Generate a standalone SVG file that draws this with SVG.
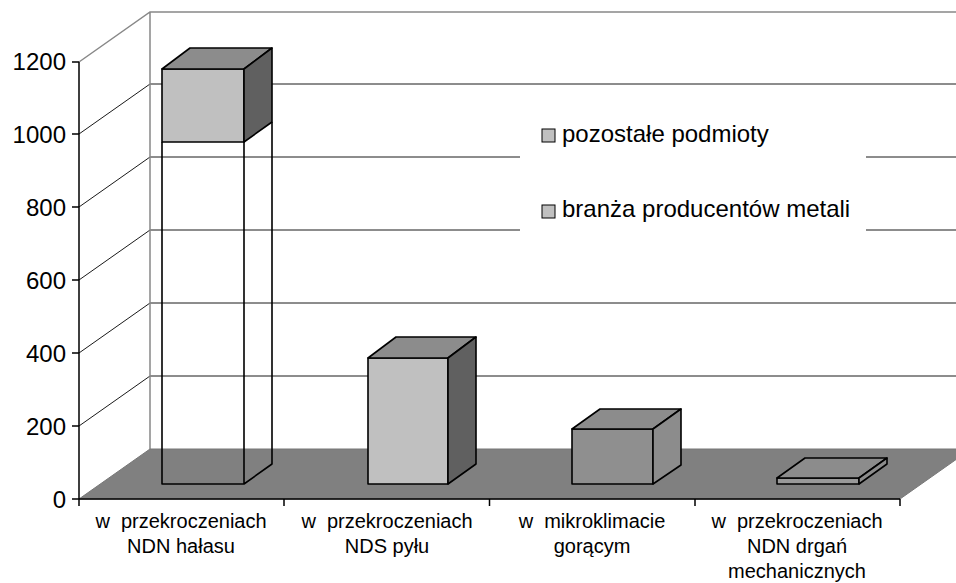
<svg xmlns="http://www.w3.org/2000/svg" width="956" height="583" viewBox="0 0 956 583">
<style>
.grid{stroke:#1a1a1a;stroke-width:1;fill:none}
.edge{stroke:#888;stroke-width:1.5;fill:none}
.ax{stroke:#000;stroke-width:1.5;fill:none}
.bar{stroke:#000;stroke-width:1.6;stroke-linejoin:round}
.num{font-family:"Liberation Sans",Arial,sans-serif;font-size:24px;fill:#000;text-anchor:end}
.cat{font-family:"Liberation Sans",Arial,sans-serif;font-size:20px;fill:#000;text-anchor:middle}
.leg{font-family:"Liberation Sans",Arial,sans-serif;font-size:24px;fill:#000}
</style>
<rect width="956" height="583" fill="#fff"/>
<g id="walls">
<path class="grid" d="M150 84H956M150 157H956M150 230H956M150 303H956M150 376H956"/>
<path class="grid" d="M79 134L150 84M79 207L150 157M79 280L150 230M79 353L150 303M79 426L150 376"/>
<path class="edge" d="M79 62L150 12H956M150 12V449"/>
</g>
<g id="floor">
<polygon points="79,499 150,449 971,449 900,499" fill="#808080" stroke="#777" stroke-width="1"/>
<path class="ax" d="M79 499H900"/>
</g>
<g id="axis">
<path class="ax" d="M79 62V506M72 62H79M72 134H79M72 207H79M72 280H79M72 353H79M72 426H79M72 499H79M284 499V506M489.5 499V506M695 499V506M900 499V506"/>
<text class="num" x="66" y="70">1200</text>
<text class="num" x="66" y="143">1000</text>
<text class="num" x="66" y="216">800</text>
<text class="num" x="66" y="289">600</text>
<text class="num" x="66" y="362">400</text>
<text class="num" x="66" y="435">200</text>
<text class="num" x="66" y="508">0</text>
</g>
<g id="bar1">
<path class="bar" fill="none" d="M162 142V484H244V142M244 484L272 464V122"/>
<rect class="bar" x="162" y="69" width="82" height="73" fill="#c0c0c0"/>
<polygon class="bar" points="162,69 190,48 272,48 244,69" fill="#8c8c8c"/>
<polygon class="bar" points="244,69 272,48 272,122 244,142" fill="#606060"/>
</g>
<g id="bar2">
<rect class="bar" x="368" y="358" width="80" height="126" fill="#c0c0c0"/>
<polygon class="bar" points="368,358 396,337 476,337 448,358" fill="#8c8c8c"/>
<polygon class="bar" points="448,358 476,337 476,464 448,484" fill="#606060"/>
</g>
<g id="bar3">
<rect class="bar" x="572" y="429" width="81" height="55" fill="#8f8f8f"/>
<polygon class="bar" points="572,429 600,409 681,409 653,429" fill="#8c8c8c"/>
<polygon class="bar" points="653,429 681,409 681,465 653,484" fill="#8c8c8c"/>
</g>
<g id="bar4">
<rect class="bar" x="777" y="478" width="82" height="6" fill="#999"/>
<polygon class="bar" points="777,478 805,458 887,458 859,478" fill="#8c8c8c"/>
<polygon class="bar" points="859,478 887,458 887,464 859,484" fill="#8c8c8c"/>
</g>
<g id="legend">
<rect x="520" y="100" width="346" height="160" fill="#fff"/>
<rect x="542" y="129" width="13" height="13" fill="#c0c0c0" stroke="#000" stroke-width="1"/>
<text class="leg" x="562" y="142">pozostałe podmioty</text>
<rect x="542" y="205" width="13" height="13" fill="#c0c0c0" stroke="#000" stroke-width="1"/>
<text class="leg" x="562" y="217">branża producentów metali</text>
</g>
<g id="labels">
<text class="cat" x="181" y="528" xml:space="preserve">w  przekroczeniach</text>
<text class="cat" x="181" y="553">NDN hałasu</text>
<text class="cat" x="387" y="528" xml:space="preserve">w  przekroczeniach</text>
<text class="cat" x="387" y="553">NDS pyłu</text>
<text class="cat" x="592" y="528" xml:space="preserve">w  mikroklimacie</text>
<text class="cat" x="592" y="553">gorącym</text>
<text class="cat" x="797" y="528" xml:space="preserve">w  przekroczeniach</text>
<text class="cat" x="797" y="553">NDN drgań</text>
<text class="cat" x="797" y="578">mechanicznych</text>
</g>
</svg>
